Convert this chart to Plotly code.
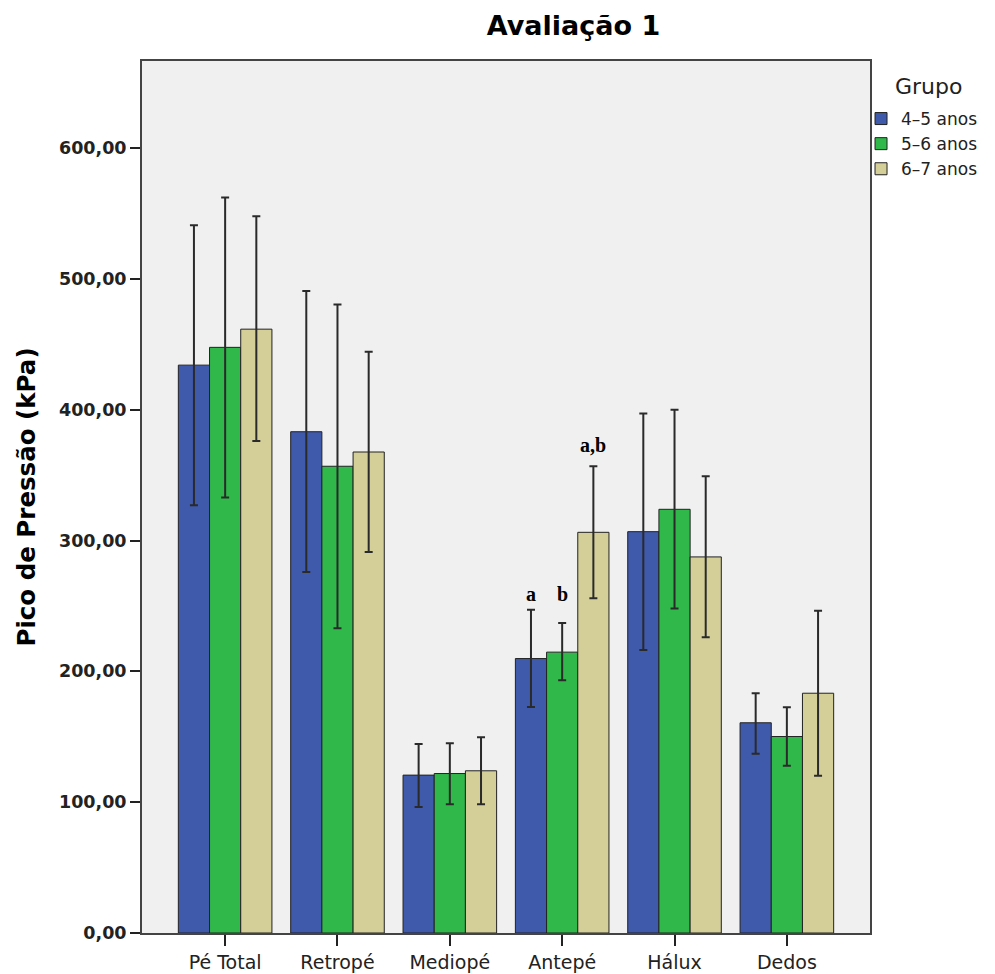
import plotly.graph_objects as go

categories = ["Pé Total", "Retropé", "Mediopé", "Antepé", "Hálux", "Dedos"]
groups = ["4–5 anos", "5–6 anos", "6–7 anos"]

mean_45 = [434.1, 383.2, 120.7, 209.8, 306.8, 160.7]
upper_45 = [541.1, 490.7, 144.4, 247.2, 397.2, 183.3]
lower_45 = [327.0, 276.0, 96.3, 172.7, 216.4, 137.0]

mean_56 = [447.7, 356.8, 121.9, 214.7, 323.9, 150.2]
upper_56 = [562.3, 480.5, 145.0, 237.0, 400.0, 172.6]
lower_56 = [333.0, 233.0, 98.5, 193.3, 248.0, 127.8]

mean_67 = [461.6, 367.7, 124.0, 306.3, 287.5, 183.3]
upper_67 = [548.0, 444.3, 149.7, 356.8, 349.1, 246.4]
lower_67 = [376.1, 291.3, 98.5, 255.9, 226.1, 120.2]

colors = ["#3F59AB", "#30B84B", "#D4CF99"]

series = [
    (mean_45, upper_45, lower_45),
    (mean_56, upper_56, lower_56),
    (mean_67, upper_67, lower_67),
]

W, H = 987, 966  # page body has an 8px margin inside the 995x974 window
ML, MR, MT, MB = 134, 123, 53, 41
PW, PH = W - ML - MR, H - MT - MB

fig = go.Figure()
for name, color, (m, u, l) in zip(groups, colors, series):
    fig.add_trace(go.Bar(
        x=categories, y=m, name=name,
        marker=dict(color=color, line=dict(color="#222222", width=1)),
        error_y=dict(
            type="data", symmetric=False,
            array=[a - b for a, b in zip(u, m)],
            arrayminus=[b - c for b, c in zip(m, l)],
            color="#2a2a2a", thickness=2, width=4,
        ),
    ))

# significance letters (Antepé group)
idx = categories.index("Antepé")
bw = 0.278
ann_font = dict(family="Liberation Serif", size=20, color="black", weight="bold")
fig.add_annotation(x=idx - bw, y=upper_45[idx], text="a", showarrow=False,
                   xref="x", yref="y", yanchor="bottom", yshift=3, font=ann_font)
fig.add_annotation(x=idx, y=upper_45[idx], text="b", showarrow=False,
                   xref="x", yref="y", yanchor="bottom", yshift=3, font=ann_font)
fig.add_annotation(x=idx + bw, y=upper_67[idx], text="a,b", showarrow=False,
                   xref="x", yref="y", yanchor="bottom", yshift=8, font=ann_font)

# legend title
fig.add_annotation(text="Grupo", xref="paper", yref="paper",
                   x=(887 - ML) / PW, xanchor="left",
                   y=(H - MB - 79) / PH, yanchor="middle",
                   showarrow=False,
                   font=dict(family="DejaVu Sans", size=22, color="#222"))

fig.update_layout(
    width=W, height=H,
    margin=dict(l=ML, r=MR, t=MT, b=MB),
    paper_bgcolor="white", plot_bgcolor="#F0F0F0",
    barmode="group", bargap=0.167, bargroupgap=0,
    separators=",.",
    title=dict(text="Avaliação 1", x=0.573, xref="container", xanchor="center",
               y=0.9814, yref="container", yanchor="middle",
               font=dict(family="DejaVu Sans", size=27, color="black", weight="bold")),
    legend=dict(
        xref="paper", yref="paper",
        x=(855 - ML) / PW, xanchor="left", y=(H - MB - 93) / PH, yanchor="top",
        font=dict(family="DejaVu Sans", size=17, color="#222"),
        bgcolor="rgba(0,0,0,0)", tracegroupgap=0, itemwidth=30,
    ),
    xaxis=dict(
        range=[-0.74, 5.74], showline=True, mirror=True, linecolor="#444", linewidth=2,
        ticks="outside", ticklen=11, tickwidth=2, tickcolor="#222",
        tickfont=dict(family="DejaVu Sans", size=19, color="#222"),
        showgrid=False, automargin=False,
    ),
    yaxis=dict(
        range=[0, 666.6], showline=True, mirror=True, linecolor="#444", linewidth=2,
        ticks="outside", ticklen=10, tickwidth=2, tickcolor="#222",
        tickvals=[0, 100, 200, 300, 400, 500, 600], tickformat=".2f",
        tickfont=dict(family="DejaVu Sans", size=17.5, color="#222", weight="bold"),
        showgrid=False, zeroline=False, automargin=False,
        title=dict(text="Pico de Pressão (kPa)", standoff=16,
                   font=dict(family="DejaVu Sans", size=24.5, color="black", weight="bold")),
    ),
)

fig.write_html("out.html")
